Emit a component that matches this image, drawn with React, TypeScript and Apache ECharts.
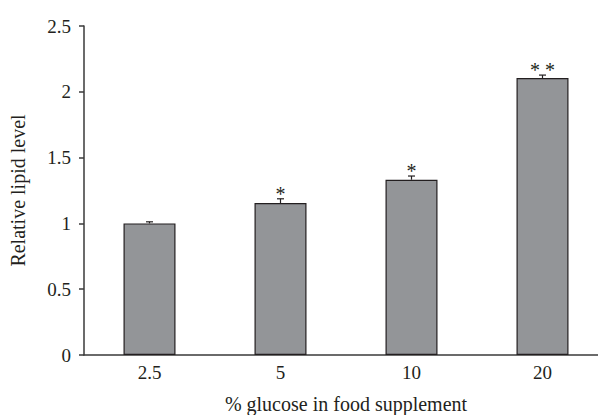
import React, { useEffect, useRef } from "react";
import * as echarts from "echarts";

const categories = ["2.5", "5", "10", "20"];
const means = [1.0, 1.155, 1.332, 2.105];
const errors = [0.012, 0.032, 0.028, 0.022];
const significance = ["", "*", "*", "* *"];
const yTicks = [0, 0.5, 1, 1.5, 2, 2.5];

const FONT = "'Liberation Serif', 'DejaVu Serif', serif";
const TEXT = "#231f20";
const AXIS = "#3a3a3a";

export default function App() {
  const ref = useRef<HTMLDivElement>(null);
  useEffect(() => {
    document.body.style.margin = "0";
    const chart = echarts.init(ref.current!, null, { renderer: "svg" });
    chart.setOption({
      animation: false,
      grid: { left: 84, right: -10, top: 26, bottom: 60, containLabel: false, outerBoundsMode: "none" },
      xAxis: {
        type: "category",
        data: categories,
        name: "% glucose in food supplement",
        nameLocation: "middle",
        nameGap: 39,
        nameTextStyle: { fontFamily: FONT, fontSize: 20, color: TEXT },
        axisLine: { lineStyle: { color: AXIS, width: 1.5 } },
        axisTick: { show: false },
        axisLabel: { fontFamily: FONT, fontSize: 19, color: TEXT, margin: 8 },
      },
      yAxis: {
        type: "value",
        min: 0,
        max: yTicks[yTicks.length - 1],
        interval: 0.5,
        name: "Relative lipid level",
        nameLocation: "middle",
        nameGap: 56,
        nameTextStyle: { fontFamily: FONT, fontSize: 20, color: TEXT },
        axisLine: { show: true, lineStyle: { color: AXIS, width: 1.5 } },
        axisTick: { show: true, length: 5, lineStyle: { color: AXIS, width: 1.5 } },
        splitLine: { show: false },
        axisLabel: { fontFamily: FONT, fontSize: 19, color: TEXT, margin: 13 },
      },
      series: [
        {
          type: "bar",
          data: means,
          barWidth: 52,
          itemStyle: { color: "#939598", borderColor: "#231f20", borderWidth: 1.2 },
          z: 2,
        },
        {
          type: "custom",
          z: 3,
          data: means.map((m, i) => [i, m, errors[i]]),
          renderItem: (params: any, api: any) => {
            const i = api.value(0);
            const m = api.value(1);
            const e = api.value(2);
            const base = api.coord([i, m]);
            const top = api.coord([i, m + e]);
            const cap = 3.5;
            const children: any[] = [
              {
                type: "line",
                shape: { x1: top[0], y1: base[1], x2: top[0], y2: top[1] },
                style: { stroke: "#231f20", lineWidth: 1.2 },
              },
              {
                type: "line",
                shape: { x1: top[0] - cap, y1: top[1], x2: top[0] + cap, y2: top[1] },
                style: { stroke: "#231f20", lineWidth: 1.2 },
              },
            ];
            const s = significance[params.dataIndex];
            if (s) {
              children.push({
                type: "text",
                x: top[0],
                y: top[1] - 5,
                style: {
                  text: s,
                  fontFamily: FONT,
                  fontSize: 20,
                  fill: TEXT,
                  align: "center",
                  verticalAlign: "middle",
                },
              });
            }
            return { type: "group", children };
          },
        },
      ],
    });
    return () => chart.dispose();
  }, []);
  return <div ref={ref} style={{ width: 598, height: 415 }} />;
}
